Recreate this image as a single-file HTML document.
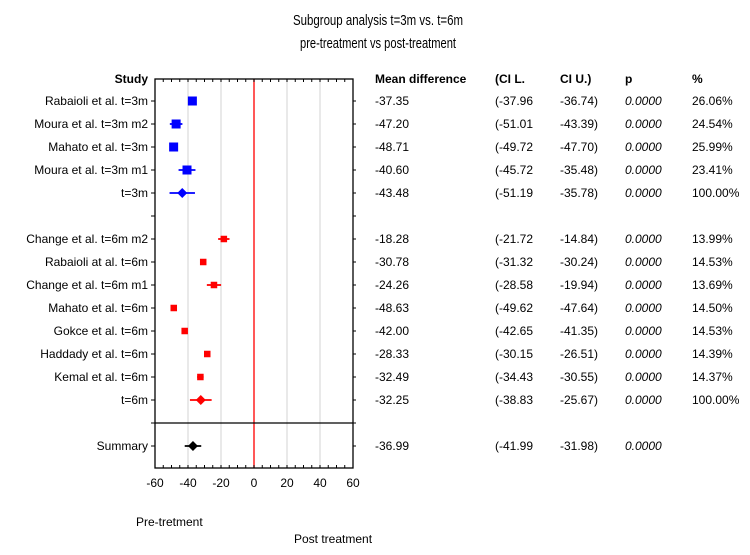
<!DOCTYPE html>
<html><head><meta charset="utf-8"><style>
html,body{margin:0;padding:0;background:#fff;}
svg{display:block;font-family:"Liberation Sans",Arial,sans-serif;}
</style></head><body>
<svg id="chart" width="750" height="555" viewBox="0 0 750 555" xmlns="http://www.w3.org/2000/svg">
<text x="378" y="25" text-anchor="middle" font-size="15" textLength="170" lengthAdjust="spacingAndGlyphs">Subgroup analysis t=3m vs. t=6m</text>
<text x="378" y="48" text-anchor="middle" font-size="15" textLength="156" lengthAdjust="spacingAndGlyphs">pre-treatment vs post-treatment</text>
<text x="148" y="83" text-anchor="end" font-size="12" font-weight="bold">Study</text>
<text x="375" y="83" font-size="12" font-weight="bold">Mean difference</text>
<text x="495" y="83" font-size="12" font-weight="bold">(CI L.</text>
<text x="560" y="83" font-size="12" font-weight="bold">CI U.)</text>
<text x="625" y="83" font-size="12" font-weight="bold">p</text>
<text x="692" y="83" font-size="12" font-weight="bold">%</text>
<g id="grid"></g><g id="marks"></g><g id="labels"></g>
<text x="136" y="526" font-size="12">Pre-tretment</text>
<text x="294" y="543" font-size="12">Post treatment</text>
</svg>
<script>
const studies=["Rabaioli et al. t=3m","Moura et al. t=3m m2","Mahato et al.  t=3m","Moura et al. t=3m m1","t=3m","","Change et al. t=6m m2","Rabaioli at al. t=6m","Change et al. t=6m m1","Mahato et al. t=6m","Gokce et al. t=6m","Haddady et al. t=6m","Kemal et al. t=6m","t=6m","","Summary"];
const means=[-37.35,-47.20,-48.71,-40.60,-43.48,null,-18.28,-30.78,-24.26,-48.63,-42.00,-28.33,-32.49,-32.25,null,-36.99];
const ciLow=[-37.96,-51.01,-49.72,-45.72,-51.19,null,-21.72,-31.32,-28.58,-49.62,-42.65,-30.15,-34.43,-38.83,null,-41.99];
const ciHigh=[-36.74,-43.39,-47.70,-35.48,-35.78,null,-14.84,-30.24,-19.94,-47.64,-41.35,-26.51,-30.55,-25.67,null,-31.98];
const weights=["26.06%","24.54%","25.99%","23.41%","100.00%","","13.99%","14.53%","13.69%","14.50%","14.53%","14.39%","14.37%","100.00%","",""];
const groups=["3m","3m","3m","3m","3m-pooled","","6m","6m","6m","6m","6m","6m","6m","6m-pooled","","summary"];
const xTicks=[-60,-40,-20,0,20,40,60];
const NS="http://www.w3.org/2000/svg";
const L=155,R=353,T=79,B=468;
const x=v=>L+(v+60)/120*(R-L);
const y=i=>101+i*23;
function mk(tag,attrs,parent,txt){const e=document.createElementNS(NS,tag);for(const k in attrs)e.setAttribute(k,attrs[k]);if(txt!==undefined)e.textContent=txt;document.getElementById(parent).appendChild(e);return e;}
const fmt=v=>v.toFixed(2);
// gridlines
xTicks.forEach(t=>{
 if(t!==-60&&t!==60){const g=mk('line',{x1:x(t),x2:x(t),y1:T,y2:B,stroke:t===0?'#ff2020':'#dddddd','stroke-width':t===0?1.5:1.3},'grid');
 
 }
 const tl=mk('text',{x:x(t),y:487,'text-anchor':'middle','font-size':12},'labels',String(t));
 
 
});
for(let v=-60;v<=60;v+=5){
 mk('line',{x1:x(v),x2:x(v),y1:T,y2:T+3,stroke:'#000'},'grid');
 mk('line',{x1:x(v),x2:x(v),y1:B,y2:B-3,stroke:'#000'},'grid');
}
const fr=mk('rect',{x:L,y:T,width:R-L,height:B-T,fill:'none',stroke:'#000','stroke-width':1.3},'grid');


const sep=mk('line',{x1:L,x2:R,y1:423,y2:423,stroke:'#000','stroke-width':1.3},'grid');


studies.forEach((s,i)=>{
 const yy=i<15?y(i):446;
 mk('line',{x1:L-4,x2:L,y1:yy,y2:yy,stroke:'#000'},'grid');
 mk('line',{x1:R,x2:R+3,y1:yy,y2:yy,stroke:'#000'},'grid');
 if(means[i]===null)return;
 const col=groups[i].startsWith('3m')?'#0000ff':groups[i]==='summary'?'#000':'#ff0000';
 const lbl=mk('text',{x:148,y:yy+4,'text-anchor':'end','font-size':12},'labels',s);
 
 
 const ci=mk('line',{x1:x(ciLow[i]),x2:x(ciHigh[i]),y1:yy,y2:yy,stroke:col,'stroke-width':1.8},'marks');
 
 
 let m;
 if(groups[i].includes('pooled')||groups[i]==='summary'){
  const cx=x(means[i]);
  m=mk('polygon',{points:`${cx-5},${yy} ${cx},${yy-5} ${cx+5},${yy} ${cx},${yy+5}`,fill:col},'marks');
 } else {
  const sz=groups[i]==='3m'?9:6.5;
  m=mk('rect',{x:x(means[i])-sz/2,y:yy-sz/2,width:sz,height:sz,fill:col},'marks');
 }
 
 
 const cols=[[375,fmt(means[i]),''],[495,'('+fmt(ciLow[i]),''],[560,fmt(ciHigh[i])+')',''],[625,'0.0000','italic'],[692,weights[i],'']];
 cols.forEach(c=>{
  const t=mk('text',{x:c[0],y:yy+4,'font-size':12,'font-style':c[2]||'normal'},'labels',c[1]);
  
  
 });
});
</script>
</body></html>
